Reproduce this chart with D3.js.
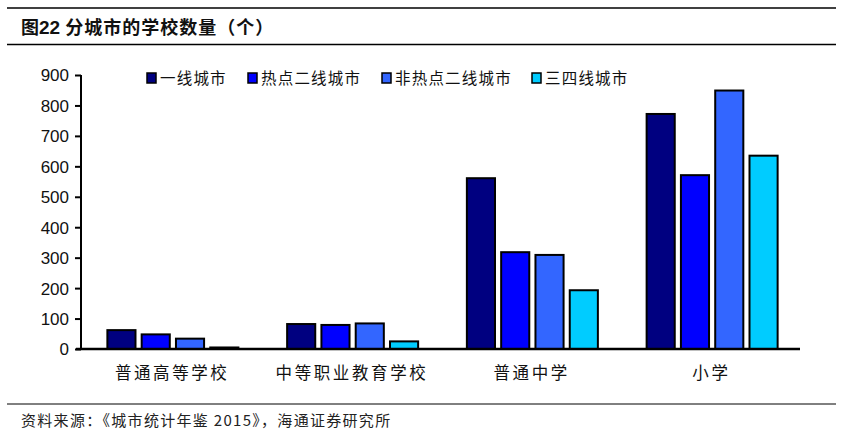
<!DOCTYPE html>
<html><head><meta charset="utf-8">
<script src="https://cdn.jsdelivr.net/npm/d3@7"></script>
<style>body{margin:0;background:#fff}</style>
</head><body>
<svg id="c" width="856" height="436"></svg>
<script>
const categories = ["普通高等学校", "中等职业教育学校", "普通中学", "小学"];
const seriesNames = ["一线城市", "热点二线城市", "非热点二线城市", "三四线城市"];
const s1 = [62, 82, 561, 772];
const s2 = [48, 79, 318, 571];
const s3 = [34, 84, 309, 849];
const s4 = [5, 25, 193, 635];
const yTicks = [0, 100, 200, 300, 400, 500, 600, 700, 800, 900];
const colors = ["#000080", "#0000FF", "#3366FF", "#00CCFF"];
const series = [s1, s2, s3, s4];

const svg = d3.select("#c");
const cjk = "'Noto Sans CJK SC', sans-serif";

// title and rules
svg.append("line").attr("x1", 7).attr("x2", 836).attr("y1", 8).attr("y2", 8).attr("stroke", "#000").attr("stroke-width", 1.5);
svg.append("line").attr("x1", 7).attr("x2", 836).attr("y1", 44.5).attr("y2", 44.5).attr("stroke", "#000").attr("stroke-width", 1.5);
svg.append("line").attr("x1", 7).attr("x2", 836).attr("y1", 404).attr("y2", 404).attr("stroke", "#000").attr("stroke-width", 1);
const t = svg.append("text").attr("x", 21).attr("y", 34).attr("font-size", 18).attr("font-weight", "bold").attr("font-family", cjk).attr("fill", "#111");
t.append("tspan").text("图");
t.append("tspan").attr("font-family", "'Liberation Sans', Arial").attr("font-size", 19).text("22");
t.append("tspan").attr("dx", 5).attr("letter-spacing", 1).text("分城市的学校数量（个）");
svg.append("text").attr("x", 21).attr("y", 426).attr("font-size", 15).attr("letter-spacing", 1.3).attr("font-family", cjk).attr("fill", "#222").text("资料来源：《城市统计年鉴 2015》，海通证券研究所");

const x0 = d3.scaleBand().domain(categories).range([81, 800]).padding(0);
const x1 = d3.scaleBand().domain(d3.range(4)).range([0, 131]).paddingInner(0.18);
const y = d3.scaleLinear().domain([0, 900]).range([349, 75]);

// bars
const g = svg.append("g");
categories.forEach((c, ci) => {
  const gx = x0(c) + (x0.bandwidth() - 131) / 2 + 2;
  series.forEach((s, si) => {
    g.append("rect")
      .attr("x", gx + x1(si))
      .attr("y", y(s[ci]))
      .attr("width", x1.bandwidth())
      .attr("height", y(0) - y(s[ci]))
      .attr("fill", colors[si]).attr("stroke", "#000").attr("stroke-width", 2);
  });
});

// y axis
const ya = svg.append("g").attr("transform", "translate(81,0)")
  .call(d3.axisLeft(y).tickValues(yTicks).tickSize(6).tickPadding(6));
ya.select(".domain").attr("stroke", "#000").attr("stroke-width", 2).attr("d", "M0,75V349");
ya.selectAll(".tick line").attr("stroke", "#000").attr("stroke-width", 2);
ya.selectAll("text").attr("font-family", "'Liberation Sans', Arial").attr("font-size", 17).attr("fill", "#111").attr("dy", "0.35em");

// x axis
const xa = svg.append("g").attr("transform", "translate(0,349)")
  .call(d3.axisBottom(x0).tickSize(0).tickPadding(18));
xa.select(".domain").attr("stroke", "#000").attr("stroke-width", 2.5).attr("d", "M76,0H800");
xa.selectAll("text").attr("font-family", cjk).attr("font-size", 16.5).attr("letter-spacing", 2.6).attr("fill", "#111").attr("dx", 1.3);

// legend
const legX = [147, 248, 382, 532];
seriesNames.forEach((n, i) => {
  svg.append("rect").attr("x", legX[i]).attr("y", 73).attr("width", 9).attr("height", 10)
    .attr("fill", colors[i]).attr("stroke", "#000").attr("stroke-width", 1.5);
  svg.append("text").attr("x", legX[i] + 13).attr("y", 84).attr("font-family", cjk)
    .attr("font-size", 15.5).attr("letter-spacing", 1.2).attr("fill", "#111").text(n);
});
</script>
</body></html>
